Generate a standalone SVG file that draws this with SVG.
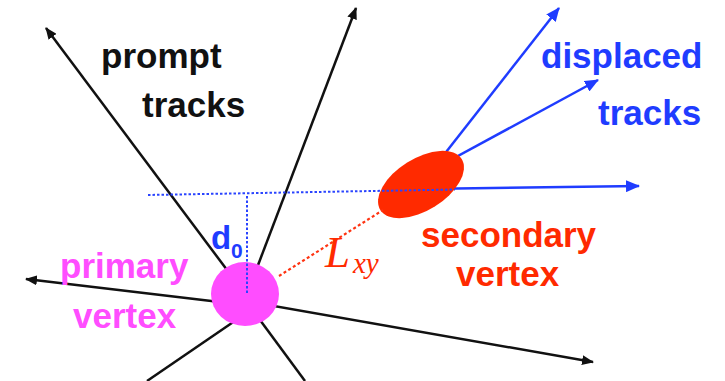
<svg xmlns="http://www.w3.org/2000/svg" width="725" height="381" viewBox="0 0 725 381">
<style>
.lbl{font-family:"Liberation Sans",Arial,sans-serif;font-weight:bold;font-size:35px}
.blk{stroke:#111;stroke-width:2.5;fill:none}
.blu{stroke:#1f3cff;stroke-width:2.5;fill:none}
.dotb{stroke:#2a44ff;stroke-width:2;stroke-dasharray:2.5 2;fill:none}
.dotr{stroke:#ff3311;stroke-width:2.2;stroke-dasharray:3 2.5;fill:none}
</style>
<defs>
<marker id="ak" viewBox="0 0 12 10" refX="11" refY="5" markerWidth="12" markerHeight="10" markerUnits="userSpaceOnUse" orient="auto"><path d="M0,0 L12,5 L0,10 Z" fill="#111"/></marker>
<marker id="ab" viewBox="0 0 14 12" refX="13" refY="6" markerWidth="14" markerHeight="12" markerUnits="userSpaceOnUse" orient="auto"><path d="M0,0 L14,6 L0,12 Z" fill="#1f3cff"/></marker>
</defs>
<rect width="725" height="381" fill="#fff"/>
<g id="connectors">
<line class="blk" x1="245" y1="294" x2="46" y2="28" marker-end="url(#ak)"/>
<line class="blk" x1="247" y1="294" x2="356" y2="8" marker-end="url(#ak)"/>
<line class="blk" x1="245" y1="305" x2="26" y2="279" marker-end="url(#ak)"/>
<line class="blk" x1="245" y1="301" x2="593" y2="362" marker-end="url(#ak)"/>
<line class="blk" x1="245" y1="314" x2="147" y2="381"/>
<line class="blk" x1="249" y1="305" x2="305" y2="381"/>
<line class="blu" x1="421" y1="184" x2="559" y2="8" marker-end="url(#ab)"/>
<line class="blu" x1="421" y1="176" x2="598" y2="80" marker-end="url(#ab)"/>
<line class="blu" x1="421" y1="189" x2="639" y2="186" marker-end="url(#ab)"/>
</g>
<g id="primary-vertex">
<ellipse cx="245" cy="294" rx="34" ry="32" fill="#ff4dff"/>
<text class="lbl" x="60" y="278" fill="#ff4dff">primary</text>
<text class="lbl" x="73" y="328" fill="#ff4dff">vertex</text>
</g>
<g id="secondary-vertex">
<ellipse cx="421" cy="184.5" rx="48" ry="26" transform="rotate(-32 421 184.5)" fill="#ff2a00"/>
<text class="lbl" x="421" y="247" fill="#ff2a00">secondary</text>
<text class="lbl" x="456" y="286" fill="#ff2a00">vertex</text>
</g>
<g id="measures">
<line class="dotb" x1="148" y1="195" x2="455" y2="189.5"/>
<line class="dotb" x1="247" y1="196" x2="247" y2="295"/>
<line class="dotr" x1="279" y1="276" x2="383" y2="210"/>
<text x="211" y="249" fill="#1f3cff" style="font-family:'Liberation Sans',Arial,sans-serif;font-weight:bold;font-size:33px">d</text>
<text x="231" y="258" fill="#1f3cff" style="font-family:'Liberation Sans',Arial,sans-serif;font-weight:bold;font-size:21px">0</text>
<text x="325" y="267" fill="#ff2a00" style="font-family:'Liberation Serif','Times New Roman',serif;font-style:italic;font-size:45px">L</text>
<text x="353" y="273" fill="#ff2a00" style="font-family:'Liberation Serif','Times New Roman',serif;font-style:italic;font-size:29px">xy</text>
</g>
<g id="prompt-label">
<text class="lbl" x="101" y="68" fill="#111">prompt</text>
<text class="lbl" x="142" y="117" fill="#111">tracks</text>
</g>
<g id="displaced-label">
<text class="lbl" x="541" y="68" fill="#1f3cff">displaced</text>
<text class="lbl" x="598" y="125" fill="#1f3cff">tracks</text>
</g>
</svg>
